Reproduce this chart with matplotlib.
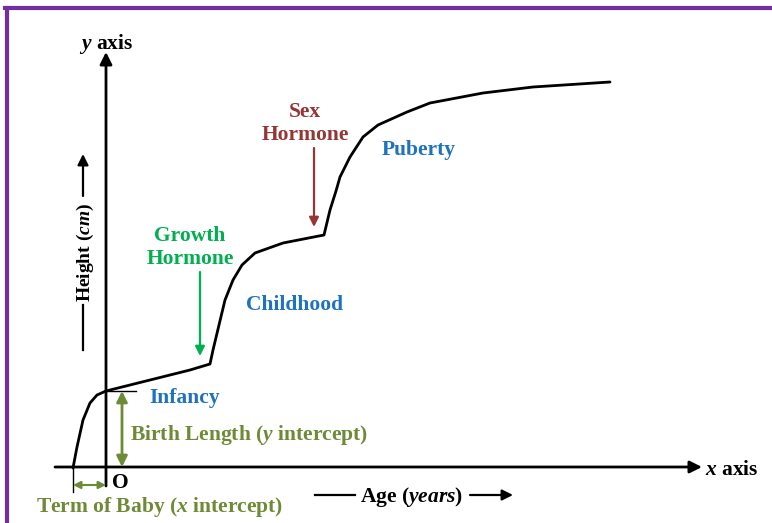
import matplotlib
matplotlib.use("Agg")
import matplotlib.pyplot as plt
from matplotlib.lines import Line2D

# ---- data (age in arbitrary years units, height in arbitrary cm units; origin at O) ----
age = [-3.3, -2.9, -2.3, -1.6, -0.9, 0.0, 4.4, 8.4, 10.4, 10.7, 11.3, 11.9, 12.7,
       13.6, 14.9, 17.7, 21.8, 22.4, 23.0, 23.4, 24.4, 25.7, 27.2, 30.1, 32.4, 37.7, 42.7, 50.4]
height = [-0.1, 2.0, 4.7, 6.4, 7.2, 7.6, 8.7, 9.7, 10.3, 11.7, 14.2, 16.7, 18.7,
          20.2, 21.4, 22.4, 23.2, 25.7, 27.6, 29.0, 31.0, 33.0, 34.2, 35.5, 36.4, 37.4, 38.0, 38.5]
stage_labels = ["Infancy", "Childhood", "Puberty"]
hormone_labels = ["Growth\nHormone", "Sex\nHormone"]

plt.rcParams['mathtext.fontset'] = 'custom'
plt.rcParams['mathtext.it'] = 'Liberation Serif:italic:bold'
plt.rcParams['mathtext.rm'] = 'Liberation Serif:bold'

W, H = 772, 523
fig = plt.figure(figsize=(W / 100, H / 100), dpi=100)
ax = fig.add_axes([0, 0, 1, 1])
ax.set_axis_off()
OX, OY, S = 106, 467, 10.0
ax.set_xlim((0 - OX) / S, (W - OX) / S)
ax.set_ylim((OY - H) / S, (OY - 0) / S)


def P(px, py):
    return ((px - OX) / S, (OY - py) / S)


BLUE = "#1F72C0"
GREEN = "#00B050"
BROWN = "#943634"
OLIVE = "#6F8A36"
PURPLE = "#7030A0"
FONT = dict(family="Liberation Serif", weight="bold", fontsize=15.5)
DY = 2  # small downward shift for visual text centring

# purple frame
fig.add_artist(Line2D([5 / W, 1], [1 - 8 / H, 1 - 8 / H], color=PURPLE, lw=3, transform=fig.transFigure))
fig.add_artist(Line2D([7 / W, 7 / W], [0, 1 - 8 / H], color=PURPLE, lw=3, transform=fig.transFigure))


def arrow(p0, p1, color="black", style="-|>", lw=1.6, ms=18):
    ax.annotate("", xy=P(*p1), xytext=P(*p0),
                arrowprops=dict(arrowstyle=style, color=color, lw=lw, mutation_scale=ms,
                                shrinkA=0, shrinkB=0))


def label(px, py, s, **kw):
    ax.text(*P(px, py + DY), s, **kw)


# axes
arrow((55, 467), (702, 467), lw=2)
arrow((106, 486), (106, 52), lw=2)

# growth curve
ax.plot(age, height, color="black", lw=2, solid_joinstyle="round", solid_capstyle="round")

# birth length & term markers
ax.plot(*zip(P(106, 391), P(136, 391)), color="black", lw=1)
ax.plot(*zip(P(73, 467), P(73, 492)), color="black", lw=1)
arrow((122, 391), (122, 467), color=OLIVE, style="<|-|>", lw=2, ms=16)
arrow((73, 485), (106, 485), color=OLIVE, style="<|-|>", lw=1.5, ms=11)

# axis texts
label(106, 42, "$y$ axis", ha="center", va="center", color="black", **FONT)
label(705, 468, "$x$ axis", ha="left", va="center", color="black", **FONT)
label(120, 481, "O", ha="center", va="center", color="black", **FONT)
label(130, 433, "Birth Length ($y$ intercept)", ha="left", va="center", color=OLIVE, **FONT)
label(36, 505, "Term of Baby ($x$ intercept)", ha="left", va="center", color=OLIVE, **FONT)

# Age (years)
ax.plot(*zip(P(315, 495), P(355, 495)), color="black", lw=1.6)
label(360, 495, "Age ($years$)", ha="left", va="center", color="black", **FONT)
arrow((470, 495), (513, 495), lw=1.6, ms=16)

# Height (cm)
ax.text(*P(85, 252), "Height ($cm$)", ha="center", va="center", rotation=90, color="black",
        family="Liberation Serif", weight="bold", fontsize=14)
ax.plot(*zip(P(83, 305), P(83, 350)), color="black", lw=1.6)
arrow((83, 196), (83, 154), lw=1.6, ms=16)

# stage labels
label(149, 396, stage_labels[0], ha="left", va="center", color=BLUE, **FONT)
label(246, 303, stage_labels[1], ha="left", va="center", color=BLUE, **FONT)
label(382, 148, stage_labels[2], ha="left", va="center", color=BLUE, **FONT)

# hormone labels
label(190, 245, hormone_labels[0], ha="center", va="center", color=GREEN, linespacing=1.2, **FONT)
arrow((200, 272), (200, 356), color=GREEN, lw=1.6, ms=14)
label(305, 121, hormone_labels[1], ha="center", va="center", color=BROWN, linespacing=1.2, **FONT)
arrow((314, 148), (314, 227), color=BROWN, lw=1.6, ms=14)

fig.savefig("out.png", dpi=100)
